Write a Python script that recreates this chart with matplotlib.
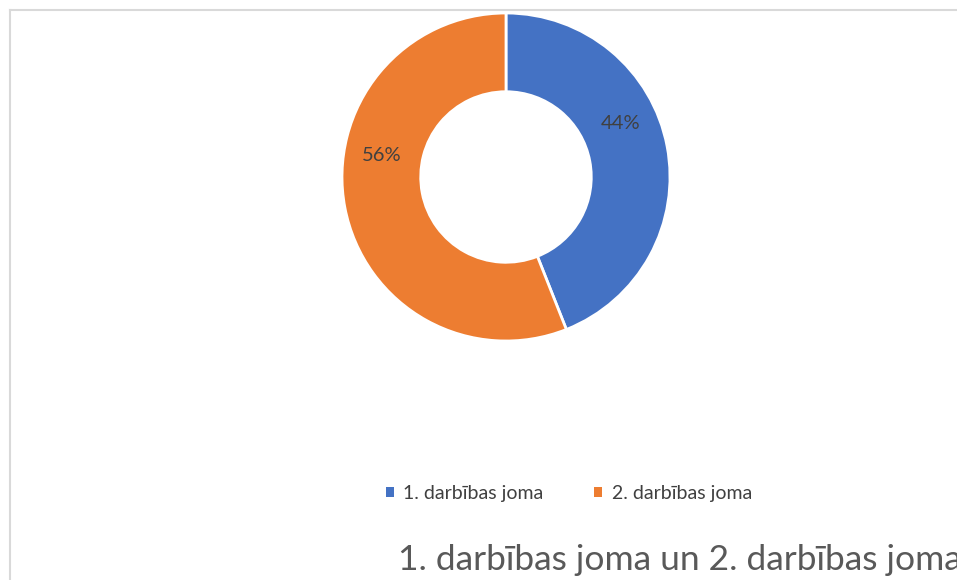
import matplotlib.pyplot as plt
import numpy as np
from matplotlib.lines import Line2D
from matplotlib.patches import Patch

plt.rcParams['font.family'] = ['Lato', 'DejaVu Sans']

# dati
labels = ['1. darbības joma', '2. darbības joma']
values = [44, 56]
colors = ['#4472C4', '#ED7D31']
title = '1. darbības joma un 2. darbības joma'

W, H = 957, 580
fig = plt.figure(figsize=(W / 100, H / 100), dpi=100)

# rāmis (tikai augšējā un kreisā mala redzama)
fig.add_artist(Line2D([10 / W, 10 / W], [0, 1 - 10 / H], color='#d9d9d9', lw=1.5))
fig.add_artist(Line2D([10 / W, 1], [1 - 10 / H, 1 - 10 / H], color='#d9d9d9', lw=1.5))

cx, cy, r = 506, 177, 164
ax = fig.add_axes([(cx - r) / W, (H - cy - r) / H, 2 * r / W, 2 * r / H])
wedges, _ = ax.pie(values, colors=colors, startangle=90, counterclock=False,
                   radius=1, wedgeprops=dict(width=0.48, edgecolor='white', linewidth=2))
ax.set_xlim(-1, 1)
ax.set_ylim(-1, 1)
ax.set_aspect('equal')
ax.axis('off')

# procentu etiķetes
label_angles = [25, 170]
for v, a in zip(values, label_angles):
    rr = 0.77
    ax.text(rr * np.cos(np.radians(a)), rr * np.sin(np.radians(a)), f'{v}%',
            ha='center', va='center', fontsize=14.5, color='#404040')

handles = [Patch(facecolor=c, edgecolor='none') for c in colors]
fig.legend(handles, labels, loc='center', bbox_to_anchor=(569 / W, 1 - 493 / H),
           ncol=2, frameon=False, fontsize=14, handlelength=0.42, handleheight=0.42,
           handletextpad=0.5, columnspacing=2.6, labelcolor='#404040')

fig.text(398 / W, 1 - 560 / H, title, ha='left', va='center', fontsize=25.5, color='#595959')

fig.savefig('out.png', dpi=100)
